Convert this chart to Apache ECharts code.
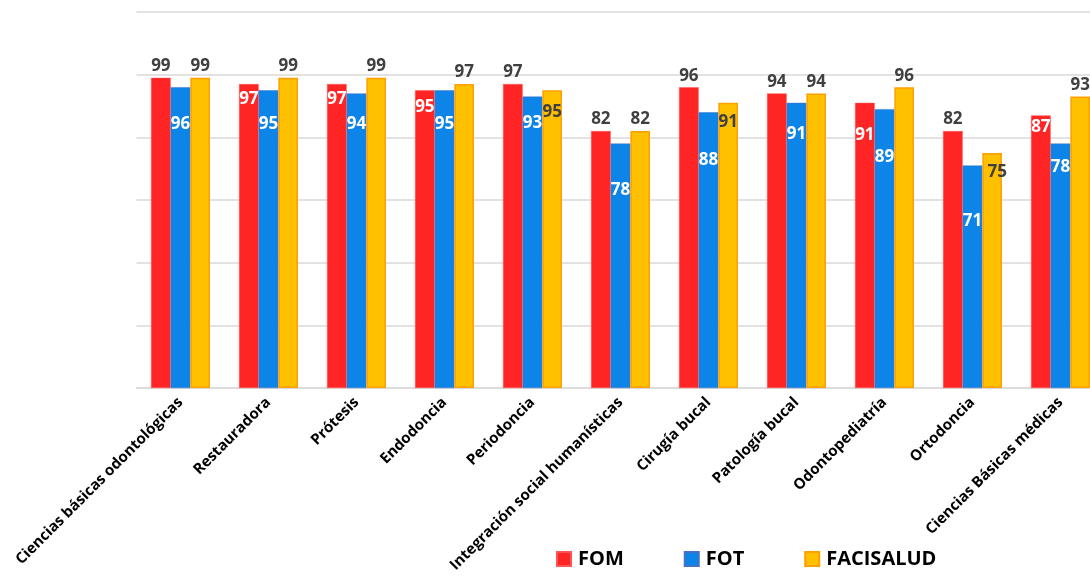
<!DOCTYPE html>
<html><head><meta charset="utf-8">
<script src="https://cdn.jsdelivr.net/npm/echarts@6/dist/echarts.min.js"></script>
<style>html,body{margin:0;padding:0;background:#fff}#c{width:1090px;height:581px}</style>
</head><body><div id="c"></div>
<script>
const categories = ['Ciencias básicas odontológicas','Restauradora','Prótesis','Endodoncia','Periodoncia','Integración social humanísticas','Cirugía bucal','Patología bucal','Odontopediatría','Ortodoncia','Ciencias Básicas médicas'];
const seriesNames = ['FOM','FOT','FACISALUD'];
const fom = [99,97,97,95,97,82,96,94,91,82,87];
const fot = [96,95,94,95,93,78,88,91,89,71,78];
const facisalud = [99,99,99,97,95,82,91,94,96,75,93];
const yTicks = [0,20,40,60,80,100,120];

// label placement style: null = above bar; number = px below bar top (label centre)
const fomLabelIn = [null,15,15,17,null,null,null,null,32,null,12];
const fotLabelIn = [37,34,31,34,27,47,48,31,48,56,24];
const facLabelIn = [null,null,null,null,22,null,19,null,null,19,null];
const facLabelDx = [0,0,0,0,0,0,0,0,0,5,0];

const FONT = '"Open Sans", "Noto Sans", sans-serif';
function items(vals, inArr, inColor, dxArr){
  return vals.map((v,i)=>{
    const d = inArr[i];
    if (d === null) return {value:v, label:{position:'top', distance:3, color:'#404040'}};
    const dx = dxArr ? dxArr[i] : 0;
    return {value:v, label:{position:['50%', d], offset:[dx,0], align:'center', verticalAlign:'middle', color:inColor}};
  });
}
const baseLabel = {show:true, fontFamily:FONT, fontWeight:'bold', fontSize:17};
const chart = echarts.init(document.getElementById('c'));
chart.setOption({
  animation:false,
  grid:{left:136.5, width:968, top:12, bottom:193, containLabel:false, outerBoundsMode:'none'},
  legend:{
    bottom:7, left:551, itemGap:60, itemWidth:14, itemHeight:14, icon:'rect',
    textStyle:{fontFamily:FONT, fontWeight:'bold', fontSize:20, color:'#000', padding:[0,0,0,2]},
    data:seriesNames
  },
  xAxis:{
    type:'category', data:categories,
    axisLine:{lineStyle:{color:'#d9d9d9', width:1.5}},
    axisTick:{show:false},
    axisLabel:{rotate:45, interval:0, margin:12, fontFamily:FONT, fontWeight:'bold', fontSize:15, color:'#000'}
  },
  yAxis:{
    type:'value', min:yTicks[0], max:yTicks[yTicks.length-1], interval:20,
    axisLabel:{show:false}, axisLine:{show:false}, axisTick:{show:false},
    splitLine:{lineStyle:{color:'#d9d9d9', width:1.5}}
  },
  series:[
    {name:seriesNames[0], type:'bar', barGap:'0%', barCategoryGap:'33%',
     itemStyle:{color:'#ff2525', borderColor:'#ff5555', borderWidth:0.5},
     label:baseLabel, data:items(fom, fomLabelIn, '#ffffff')},
    {name:seriesNames[1], type:'bar', barGap:'0%', barCategoryGap:'33%',
     itemStyle:{color:'#0d84e8', borderColor:'#4472c4', borderWidth:0.5},
     label:baseLabel, data:items(fot, fotLabelIn, '#ffffff')},
    {name:seriesNames[2], type:'bar', barGap:'0%', barCategoryGap:'33%',
     itemStyle:{color:'#ffc000', borderColor:'#ff9f00', borderWidth:1.5},
     label:baseLabel, data:items(facisalud, facLabelIn, '#404040', facLabelDx)}
  ]
});
</script></body></html>
